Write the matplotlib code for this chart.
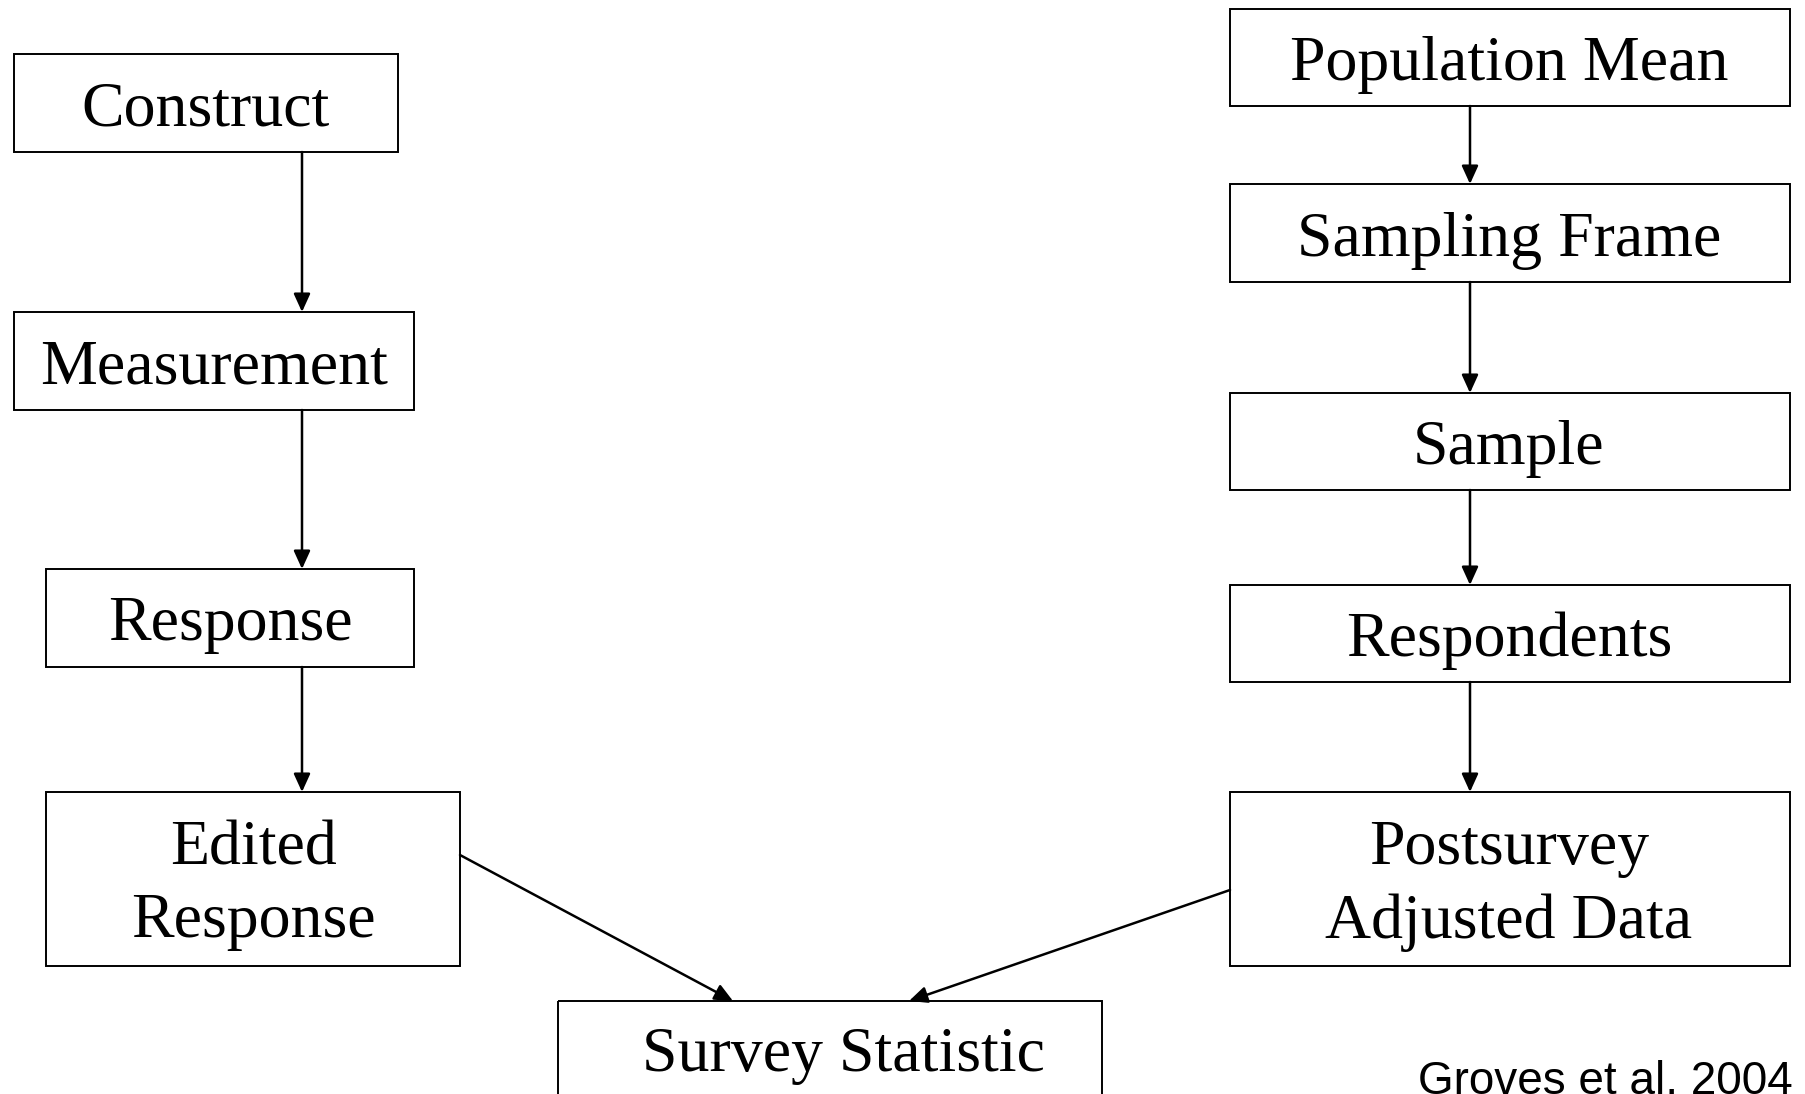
import matplotlib
matplotlib.use('Agg')
import matplotlib.pyplot as plt
from matplotlib.patches import Rectangle

# Flow diagram (Groves et al. 2004) -- coordinates in pixel units of the 1805x1094 canvas
W, H = 1805, 1094

labels = ['Construct', 'Measurement', 'Response', 'Edited\nResponse',
          'Population Mean', 'Sampling Frame', 'Sample', 'Respondents',
          'Postsurvey\nAdjusted Data', 'Survey Statistic']
box_x0 = [14, 14, 46, 46, 1230, 1230, 1230, 1230, 1230, 558]
box_x1 = [398, 414, 414, 460, 1790, 1790, 1790, 1790, 1790, 1102]
box_y0 = [54, 312, 569, 792, 9, 184, 393, 585, 792, 1001]
box_y1 = [152, 410, 667, 966, 106, 282, 490, 682, 966, 1120]
text_x = [206, 214, 230, 253, 1509, 1509, 1509, 1509, 1509, 843]
text_y = [110, 368, 625, 886, 65, 241, 449, 641, 886, 1056]

# arrows: (start x, start y, end x, end y)
arrows = [
    (302, 152, 302, 312),
    (302, 410, 302, 569),
    (302, 667, 302, 792),
    (1470, 106, 1470, 184),
    (1470, 282, 1470, 393),
    (1470, 490, 1470, 585),
    (1470, 682, 1470, 792),
    (460, 855, 733, 1001),
    (1230, 890, 909, 1001),
]

fig = plt.figure(figsize=(W / 100, H / 100), dpi=100)
ax = fig.add_axes([0, 0, 1, 1])
ax.set_xlim(0, W)
ax.set_ylim(H, 0)
ax.axis('off')

for lab, x0, x1, y0, y1, tx, ty in zip(labels, box_x0, box_x1, box_y0, box_y1, text_x, text_y):
    ax.add_patch(Rectangle((x0, y0), x1 - x0, y1 - y0, fill=False,
                           edgecolor='black', linewidth=1.4))
    ax.text(tx, ty, lab, ha='center', va='center', fontsize=46,
            family='Liberation Serif', linespacing=1.33)

for xs, ys, xe, ye in arrows:
    ax.annotate('', xy=(xe, ye), xytext=(xs, ys),
                arrowprops=dict(arrowstyle='-|>,head_length=1.1,head_width=0.5',
                                color='black', lw=1.8, mutation_scale=10,
                                shrinkA=0, shrinkB=0))

ax.text(1418, 1094, 'Groves et al. 2004', ha='left', va='baseline',
        fontsize=33, family='Liberation Sans')

plt.savefig('out.png', dpi=100)
